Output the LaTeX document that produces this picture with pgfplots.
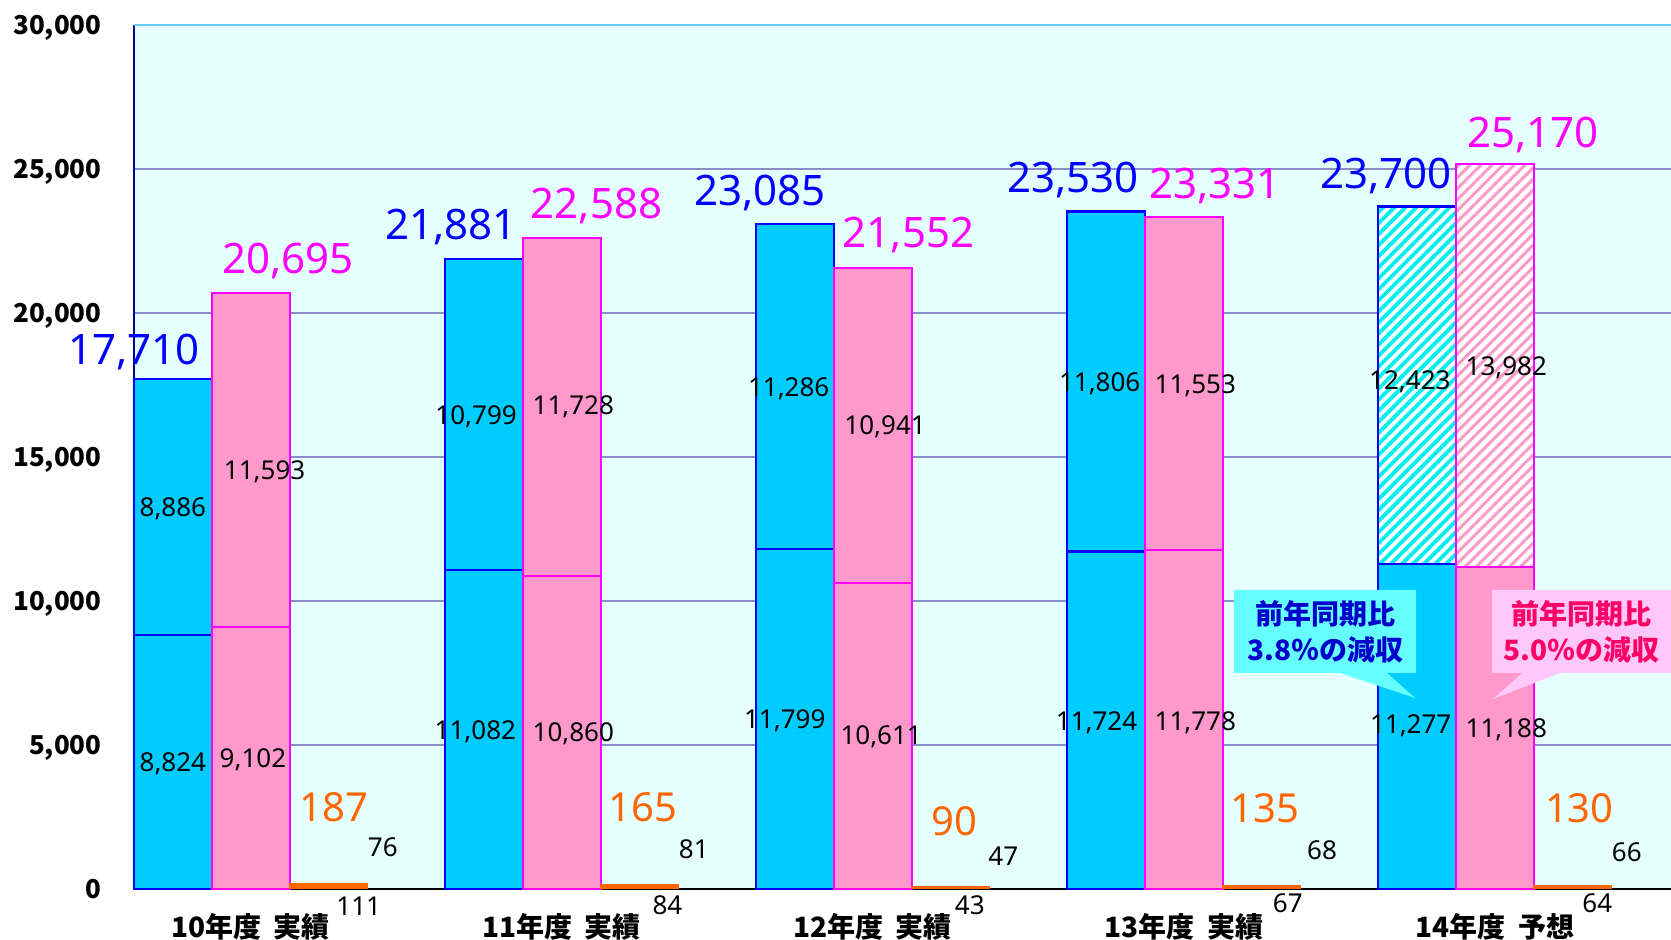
\documentclass[border=0pt]{standalone}
\usepackage{pgfplots}
\pgfplotsset{compat=1.18}
\usepackage{fontspec}
\setmainfont{Noto Sans}
\newfontfamily\jp{Noto Sans CJK JP}
\usetikzlibrary{patterns.meta}
\definecolor{bgc}{HTML}{E5FFFF}
\definecolor{gridc}{HTML}{8C8CC8}
\definecolor{topc}{HTML}{66CCFF}
\definecolor{leftc}{HTML}{000099}
\definecolor{barblue}{HTML}{00CCFF}
\definecolor{edgeblue}{HTML}{0000FF}
\definecolor{barpink}{HTML}{FF99CC}
\definecolor{edgepink}{HTML}{FF00FF}
\definecolor{barorange}{HTML}{FF6600}
\definecolor{stripecyan}{HTML}{00F0F0}
\definecolor{stripepink}{HTML}{FF99CC}
\definecolor{boxcyan}{HTML}{66FFFF}
\definecolor{boxpink}{HTML}{FFC8FA}
\definecolor{txtblue}{HTML}{0000CC}
\definecolor{txtpink}{HTML}{FF0066}
\newcommand\fs[1]{\fontsize{#1}{#1}\selectfont}
\newcommand\seg[3]{\node[font=\fs{13}, text=black] at (axis cs:#1,#2) {#3};}
\newcommand\totb[3]{\node[anchor=base, yshift=#3, font=\fs{21}, text=edgeblue] at (axis cs:#1) {#2};}
\newcommand\totp[3]{\node[anchor=base, yshift=#3, font=\fs{21}, text=edgepink] at (axis cs:#1) {#2};}
\begin{document}
\begin{tikzpicture}
\begin{axis}[
  at={(0,0)}, anchor=south west,
  scale only axis, width=768.5pt, height=432pt,
  xmin=0, xmax=19.768, ymin=0, ymax=30000,
  axis background/.style={fill=bgc},
  axis line style={draw=none},
  ytick={0,5000,10000,15000,20000,25000,30000},
  ymajorgrids, grid style={draw=gridc, line width=0.75pt},
  xtick={1.5,5.5,9.5,13.5,17.5},
  xticklabels={10年度\hspace{0.45em}実績,11年度\hspace{0.45em}実績,12年度\hspace{0.45em}実績,13年度\hspace{0.45em}実績,14年度\hspace{0.45em}予想},
  xtick style={draw=none}, ytick style={draw=none},
  xticklabel style={font=\jp\bfseries\fs{14}, anchor=center, yshift=-19pt},
  yticklabel style={font=\jp\bfseries\fs{13}, anchor=base east, inner sep=0pt, xshift=-16pt, yshift=-4.8pt},
  scaled y ticks=false,
  clip=false,
  /pgf/number format/1000 sep={,},
  /pgf/number format/assume math mode=true,
]
% axis lines
\draw[leftc, line width=0.8pt] (rel axis cs:0,0) -- (rel axis cs:0,1);
\draw[topc, line width=1pt] (rel axis cs:0,1) -- (rel axis cs:1,1);
\draw[black, line width=0.8pt] (rel axis cs:0,0) -- (rel axis cs:1,0);

% blue totals (upper segments)
\addplot[ybar, bar width=1, bar shift=0pt, fill=barblue, draw=edgeblue, line width=1.2pt]
  coordinates {(0.5,17710) (4.5,21881) (8.5,23085) (12.5,23530)};
\addplot[ybar, bar width=1, bar shift=0pt, fill=white, draw=none]
  coordinates {(16.5,23700)};
\addplot[ybar, bar width=1, bar shift=0pt, pattern={Lines[angle=45,distance=3.9pt,line width=1.9pt]},
  pattern color=stripecyan, draw=edgeblue, line width=1.2pt]
  coordinates {(16.5,23700)};
% blue lower segments
\addplot[ybar, bar width=1, bar shift=0pt, fill=barblue, draw=edgeblue, line width=1.2pt]
  coordinates {(0.5,8824) (4.5,11082) (8.5,11799) (12.5,11724) (16.5,11277)};

% pink totals
\addplot[ybar, bar width=1, bar shift=0pt, fill=barpink, draw=edgepink, line width=1pt]
  coordinates {(1.5,20695) (5.5,22588) (9.5,21552) (13.5,23331)};
\addplot[ybar, bar width=1, bar shift=0pt, fill=white, draw=none]
  coordinates {(17.5,25170)};
\addplot[ybar, bar width=1, bar shift=0pt, pattern={Lines[angle=45,distance=3.9pt,line width=1.5pt]},
  pattern color=stripepink, draw=edgepink, line width=1pt]
  coordinates {(17.5,25170)};
% pink lower
\addplot[ybar, bar width=1, bar shift=0pt, fill=barpink, draw=edgepink, line width=1pt]
  coordinates {(1.5,9102) (5.5,10860) (9.5,10611) (13.5,11778) (17.5,11188)};

% orange totals and lower
\addplot[ybar, bar width=1, bar shift=0pt, fill=barorange, draw=barorange, line width=0.5pt]
  coordinates {(2.5,187) (6.5,165) (10.5,90) (14.5,135) (18.5,130)};
\addplot[ybar, bar width=1, bar shift=0pt, fill=barorange, draw=none]
  coordinates {(2.5,111) (6.5,84) (10.5,43) (14.5,67) (18.5,64)};

% totals
\totb{0.0,17710}{17,710}{7pt}
\totb{4.08,21881}{21,881}{9.5pt}
\totb{8.05,23085}{23,085}{9.5pt}
\totb{12.08,23530}{23,530}{9.5pt}
\totb{16.10,23700}{23,700}{9pt}
\totp{1.98,20695}{20,695}{9.5pt}
\totp{5.95,22588}{22,588}{10pt}
\totp{9.96,21552}{21,552}{10.5pt}
\totp{13.9,23331}{23,331}{9.5pt}
\totp{17.99,25170}{25,170}{8.5pt}

% segment values
\seg{0.50}{13194}{8,886}
\seg{0.50}{4340}{8,824}
\seg{1.68}{14479}{11,593}
\seg{1.53}{4479}{9,102}
\seg{4.40}{16389}{10,799}
\seg{4.39}{5451}{11,082}
\seg{5.65}{16736}{11,728}
\seg{5.65}{5382}{10,860}
\seg{8.42}{17361}{11,286}
\seg{8.37}{5833}{11,799}
\seg{9.66}{16042}{10,941}
\seg{9.61}{5278}{10,611}
\seg{12.42}{17535}{11,806}
\seg{12.38}{5764}{11,724}
\seg{13.65}{17465}{11,553}
\seg{13.65}{5764}{11,778}
\seg{16.41}{17604}{12,423}
\seg{16.42}{5660}{11,277}
\seg{17.65}{18090}{13,982}
\seg{17.65}{5521}{11,188}

% orange values
\node[font=\fs{20}, text=barorange] at (axis cs:2.57,2847) {187};
\node[font=\fs{20}, text=barorange] at (axis cs:6.55,2847) {165};
\node[font=\fs{20}, text=barorange] at (axis cs:10.55,2361) {90};
\node[font=\fs{20}, text=barorange] at (axis cs:14.55,2812) {135};
\node[font=\fs{20}, text=barorange] at (axis cs:18.59,2812) {130};
\seg{3.20}{1458}{76}
\seg{7.20}{1389}{81}
\seg{11.18}{1146}{47}
\seg{15.28}{1354}{68}
\seg{19.20}{1285}{66}
\seg{2.89}{-590}{111}
\seg{6.86}{-556}{84}
\seg{10.75}{-556}{43}
\seg{14.84}{-486}{67}
\seg{18.82}{-486}{64}

% callouts
\fill[boxcyan] (axis cs:14.148,10382) -- (axis cs:16.489,10382) -- (axis cs:16.489,7500)
  -- (axis cs:16.116,7500) -- (axis cs:16.476,6632) -- (axis cs:15.511,7500)
  -- (axis cs:14.148,7500) -- cycle;
\node[align=center, text=txtblue, font=\jp\bfseries\fs{14}, inner sep=0pt] at (axis cs:15.32,8941)
  {前年同期比\\[4pt]3.8％の減収};
\fill[boxpink] (axis cs:17.466,10382) -- (axis cs:19.80,10382) -- (axis cs:19.80,7500)
  -- (axis cs:18.341,7500) -- (axis cs:17.479,6597) -- (axis cs:17.852,7500)
  -- (axis cs:17.466,7500) -- cycle;
\node[align=center, text=txtpink, font=\jp\bfseries\fs{14}, inner sep=0pt] at (axis cs:18.62,8941)
  {前年同期比\\[4pt]5.0％の減収};
\end{axis}
\pgfresetboundingbox
\path[use as bounding box] (-67pt,-25.5pt) rectangle (768.5pt,444.5pt);
\end{tikzpicture}
\end{document}
